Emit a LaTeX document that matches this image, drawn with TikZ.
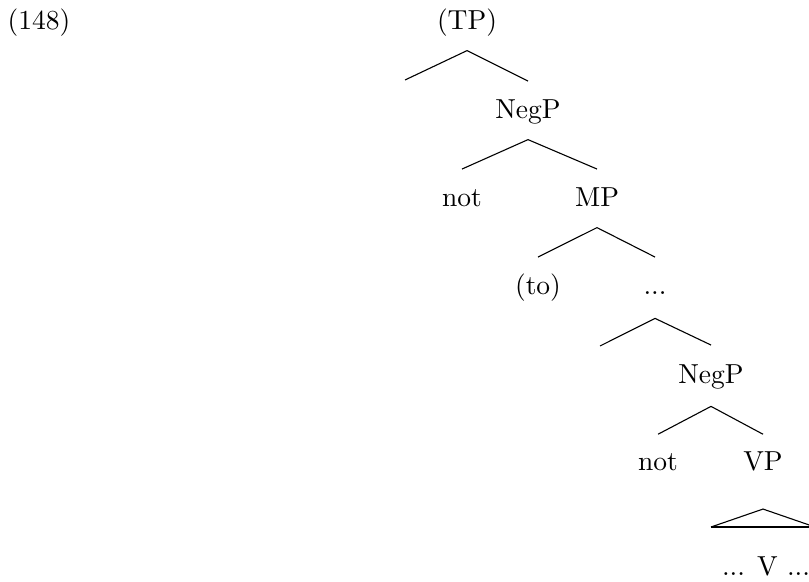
\documentclass[tikz,border=0pt]{standalone}
\usepackage{tikz}
\tikzset{
  lbl/.style={anchor=base, inner sep=0pt},
  branch/.style={line width=0.4pt},
  roof/.style={line width=0.8pt},
}

\begin{document}
\begin{tikzpicture}[x=0.3636pt, y=-0.3636pt]
\useasboundingbox (0,0) rectangle (809,581);
\clip (0,0) rectangle (809,581);
\node[lbl] (exno) at (39,30) {(148)};
\node[lbl] (tp) at (467,30) {(TP)};
\coordinate (tpleft) at (405,80);
\node[lbl] (negpa) at (528,119) {NegP};
\node[lbl] (nota) at (462,207) {not};
\node[lbl] (mp) at (597,207) {MP};
\node[lbl] (to) at (538,295) {(to)};
\node[lbl] (dots) at (655,295) {...};
\coordinate (dotsleft) at (600,346);
\node[lbl] (negpb) at (711,383) {NegP};
\node[lbl] (notb) at (658,470) {not};
\node[lbl] (vp) at (763,470) {VP};
\node[lbl] (vcore) at (766,575) {... V ...};
\coordinate (roofl) at (711,527);
\coordinate (roofr) at (815,527);

\draw[branch] ([yshift=-7.5pt]tp.base) -- (tpleft);
\draw[branch] ([yshift=-7.5pt]tp.base) -- ([yshift=13.8pt]negpa.base);
\draw[branch] ([yshift=-7.5pt]negpa.base) -- ([yshift=13.8pt]nota.base);
\draw[branch] ([yshift=-7.5pt]negpa.base) -- ([yshift=13.8pt]mp.base);
\draw[branch] ([yshift=-7.5pt]mp.base) -- ([yshift=13.8pt]to.base);
\draw[branch] ([yshift=-7.5pt]mp.base) -- ([yshift=13.8pt]dots.base);
\draw[branch] ([yshift=-8.5pt]dots.base) -- (dotsleft);
\draw[branch] ([yshift=-8.5pt]dots.base) -- ([yshift=13.8pt]negpb.base);
\draw[branch] ([yshift=-8.5pt]negpb.base) -- ([yshift=13pt]notb.base);
\draw[branch] ([yshift=-8.5pt]negpb.base) -- ([yshift=13pt]vp.base);
% roof over the VP
\draw[branch] (roofl) -- ([yshift=-14.2pt]vp.base) -- (roofr);
\draw[roof] (roofl) -- (roofr);
\end{tikzpicture}
\end{document}
